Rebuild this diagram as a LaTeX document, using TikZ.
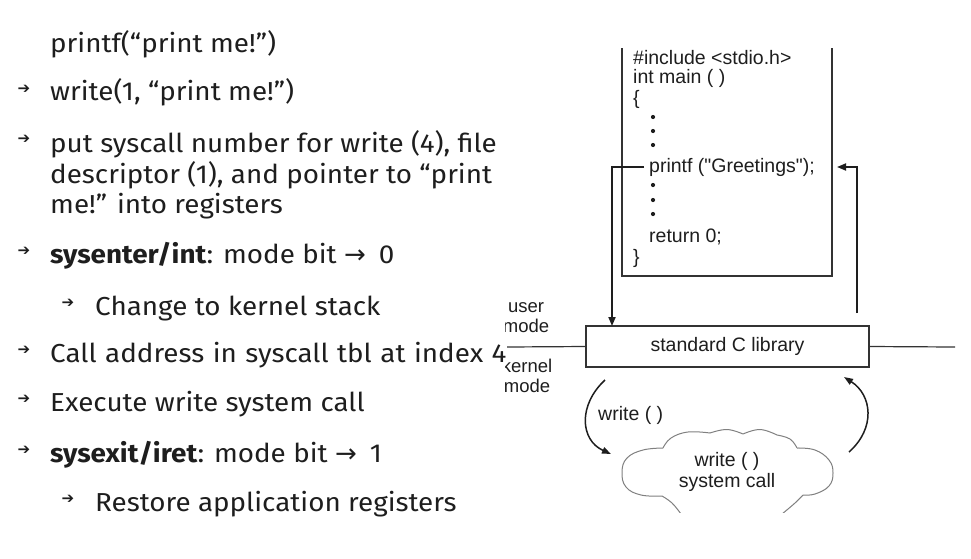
\documentclass[tikz,border=0pt]{standalone}
\usepackage{fontspec}
\setmainfont[FakeStretch=1.07]{Fira Sans}
\newfontfamily\diagfont{Liberation Sans}
\newfontfamily\symfont{DejaVu Sans}
\usetikzlibrary{arrows.meta}
\definecolor{ink}{HTML}{1E1E1E}
\definecolor{lineink}{HTML}{333333}
\begin{document}
\begin{tikzpicture}[x=1pt,y=-1pt,
  item/.style={anchor=base west, inner sep=0pt, font=\fontsize{26}{31}\selectfont, text=ink},
  bul/.style={anchor=center, inner sep=0pt, font=\symfont\fontsize{15}{15}\selectfont, text=ink},
  code/.style={anchor=west, inner sep=0pt, font=\diagfont\fontsize{19.5}{22}\selectfont, text=ink},
  lbl/.style={inner sep=0pt, align=center, font=\diagfont\fontsize{18.5}{20}\selectfont, text=ink},
  flow/.style={draw=ink, line width=1.8pt, -{Triangle[length=9pt,width=7pt]}},
  curve/.style={draw=ink, line width=1.5pt, -{Triangle[length=9pt,width=6.5pt]}},
  frame/.style={draw=lineink, line width=1.2pt},
  puff/.style={draw=gray, line width=1pt},
]
\fill[white] (0,0) rectangle (971,558);
\useasboundingbox (0,0) rectangle (971,558);

% ---- bullet list ----
\node[item] (t0) at (50,52) {printf(“print me!”)};
\node[bul] (b1) at (24,89) {➔};
\node[item] (t1) at (50,100) {write(1, “print me!”)};
\node[bul] (b2) at (24,139) {➔};
\node[item] (t2a) at (50,152) {put syscall number for write (4), file};
\node[item] (t2b) at (50,183) {descriptor (1), and pointer to “print};
\node[item] (t2c) at (50,213) {me!” into registers};
\node[bul] (b3) at (24,251) {➔};
\node[item] (t3) at (50,263) {\textbf{sysenter/int}: mode bit {\symfont →}\enspace 0};
\node[bul] (b4) at (68,303) {➔};
\node[item] (t4) at (95,315) {Change to kernel stack};
\node[bul] (b5) at (24,350) {➔};
\node[item] (t5) at (50,362) {\spaceskip=8.5pt Call address in syscall tbl at index 4};
\node[bul] (b6) at (24,399) {➔};
\node[item] (t6) at (50,411) {Execute write system call};
\node[bul] (b7) at (24,450) {➔};
\node[item] (t7) at (50,462) {\textbf{sysexit/iret}: mode bit {\symfont →}\enspace 1};
\node[bul] (b8) at (68,499) {➔};
\node[item] (t8) at (95,511) {Restore application registers};

% ---- program text ----
\draw[frame] (622,48) -- (622,276) -- (832,276) -- (832,48);
\node[code] (inc) at (633,58) {\#include <stdio.h>};
\node[code] (mn) at (633,78) {int main ( )};
\node[code] (ob) at (633,99) {\{};
\foreach \yy in {117,131,145,185,200,214} \fill[ink] (653,\yy) circle (2.1);
\node[code] (pf) at (649,167) {printf ("Greetings");};
\node[code] (rt) at (649,237) {return 0;};
\node[code] (cb) at (633,258) {\}};

% ---- library and mode boundary ----
\node[frame, minimum width=283, minimum height=41, inner sep=0pt,
      font=\diagfont\fontsize{19.5}{22}\selectfont, text=ink] (lib) at (727.5,346.5) {standard C library};
\coordinate (hl) at (507,347);
\coordinate (hr) at (955,347);
\draw[frame] (hl) -- (lib.west);
\draw[frame] (lib.east) -- (hr);

\begin{scope}
  \clip (505,290) rectangle (580,400);
  \node[lbl] (um) at (526,318) {user\\mode};
  \node[lbl] (km) at (527,376) {kernel\\mode};
\end{scope}

% ---- call and return into the library ----
\coordinate (callin) at (612,326);
\coordinate (retout) at (857,313);
\coordinate (retin) at (837,167);
\draw[flow] ([xshift=-5]pf.west) -| (callin);
\draw[flow] (retout) |- (retin);

% ---- trap into the kernel and back ----
\coordinate (dn0) at (605,380);
\coordinate (dn1) at (611,454);
\coordinate (up0) at (849,452);
\coordinate (up1) at (844,377);
\draw[curve] (dn0) .. controls (578,405) and (580,440) .. (dn1);
\draw[curve] (up0) .. controls (876,428) and (872,395) .. (up1);
\node[inner sep=0pt, anchor=west, font=\diagfont\fontsize{19.5}{22}\selectfont, text=ink] (wl) at (598,415) {write ( )};

% ---- kernel cloud, one stroke per puff ----
\begin{scope}
  \clip (600,420) rectangle (860,512);
  \draw[puff] plot[smooth, tension=0.7] coordinates {(662,496) (641,495) (626,487) (622,472) (627,458) (643,450) (663,448)};
  \draw[puff] plot[smooth, tension=0.7] coordinates {(663,448) (671,438) (688,432) (710,433)};
  \draw[puff] plot[smooth, tension=0.7] coordinates {(710,433) (727,429.5) (743,434)};
  \draw[puff] plot[smooth, tension=0.7] coordinates {(743,434) (760,429.5) (777,435)};
  \draw[puff] plot[smooth, tension=0.7] coordinates {(777,435) (790,439) (797,448)};
  \draw[puff] plot[smooth, tension=0.7] coordinates {(797,448) (815,450) (829,460) (833,473) (829,486) (815,494) (803,495)};
  \draw[puff] plot[smooth, tension=0.7] coordinates {(803,495) (795,503) (782,514)};
  \draw[puff] plot[smooth, tension=0.7] coordinates {(662,496) (672,503) (681,514)};
\end{scope}
\node[inner sep=0pt, align=center, font=\diagfont\fontsize{19.5}{21}\selectfont, text=ink] (sc) at (727,472) {write ( )\\system call};
\end{tikzpicture}
\end{document}
